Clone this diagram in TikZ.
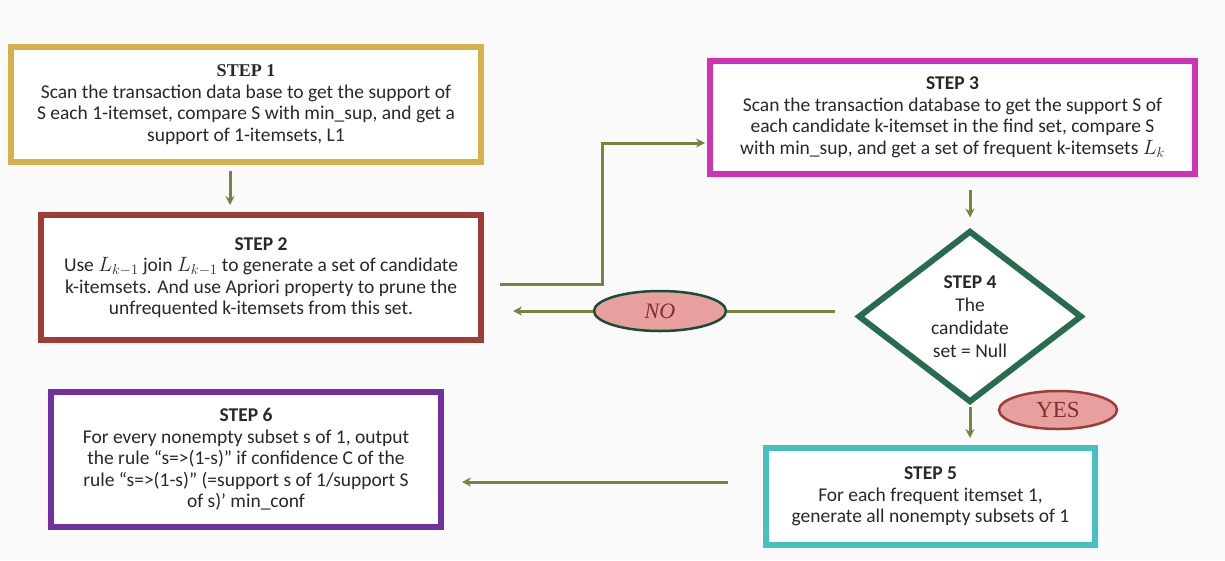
\documentclass[tikz,border=0pt]{standalone}
\usepackage{fontspec}
\setmainfont{Carlito}
\newfontfamily\serifrm{Liberation Serif}
\usetikzlibrary{shapes.geometric,arrows.meta}
\definecolor{bg}{RGB}{250,250,250}
\definecolor{cgold}{RGB}{214,176,72}
\definecolor{cred}{RGB}{160,60,55}
\definecolor{cmag}{RGB}{208,50,180}
\definecolor{cgreen}{RGB}{40,108,80}
\definecolor{cteal}{RGB}{70,192,192}
\definecolor{cpurp}{RGB}{112,48,160}
\definecolor{colive}{RGB}{122,130,62}
\definecolor{cpink}{RGB}{232,160,158}
\definecolor{ctext}{RGB}{40,40,40}
\begin{document}
\begin{tikzpicture}[x=1pt,y=-1pt,
  box/.style={draw, line width=6pt, fill=white, align=center, inner sep=2pt,
    text=ctext, font=\fontsize{19.5}{21.5}\selectfont},
  arr/.style={draw=colive, line width=3pt, -{Stealth[length=9pt,width=9pt]}},
  plain/.style={draw=colive, line width=3pt},
  lbl/.style={ellipse, fill=cpink, line width=2.5pt, inner sep=0pt}]
\fill[bg] (0,0) rectangle (1225,560);
\useasboundingbox (0,0) rectangle (1225,560);

\node[box, draw=cgold, minimum width=470pt, minimum height=115pt] (s1) at (246,104.5)
  {{\serifrm\bfseries\fontsize{18}{21.5}\selectfont STEP 1}\\Scan the transaction data base to get the support of\\S each 1-itemset, compare S with min\_sup, and get a\\support of 1-itemsets, L1};

\node[box, draw=cred, minimum width=440pt, minimum height=125pt] (s2) at (261,277.5)
  {\textbf{STEP 2}\\Use $L_{k-1}$ join $L_{k-1}$ to generate a set of candidate\\k-itemsets. And use Apriori property to prune the\\unfrequented k-itemsets from this set.};

\node[box, draw=cmag, minimum width=485pt, minimum height=113pt] (s3) at (952.5,117.5)
  {\textbf{STEP 3}\\Scan the transaction database to get the support S of\\each candidate k-itemset in the find set, compare S\\with min\_sup, and get a set of frequent k-itemsets $L_k$};

\node[diamond, draw=cgreen, line width=6pt, fill=white, inner sep=0pt, align=center,
  minimum width=224pt, minimum height=172pt, text=ctext,
  font=\fontsize{19.5}{23}\selectfont] (d) at (970,316.5)
  {\textbf{STEP 4}\\The\\candidate\\set = Null};

\node[box, draw=cteal, minimum width=329pt, minimum height=97pt] (s5) at (930.5,496.5)
  {\textbf{STEP 5}\\For each frequent itemset 1,\\generate all nonempty subsets of 1};

\node[box, draw=cpurp, minimum width=390pt, minimum height=135pt] (s6) at (246,459.5)
  {\textbf{STEP 6}\\For every nonempty subset s of 1, output\\the rule ``s=>(1-s)'' if confidence C of the\\rule ``s=>(1-s)'' (=support s of 1/support S\\of s)' min\_conf};

\node[lbl, draw=cgreen!70!black, minimum width=132pt, minimum height=40pt,
  font=\serifrm\itshape\fontsize{22}{22}\selectfont, text=cred!80!black] (no) at (660,311) {NO};
\node[lbl, draw=cred, minimum width=118pt, minimum height=38pt,
  font=\serifrm\fontsize{23}{23}\selectfont, text=cred!80!black] (yes) at (1058,410) {YES};

% connectors
\draw[arr] ([yshift=-6pt]s1.south -| 230,0) -- ([yshift=7pt]s2.north -| 230,0);
\draw[arr] ([xshift=16pt,yshift=-6.5pt]s2.east) -| (602,143) -- ([xshift=-2pt,yshift=-25.5pt]s3.west);
\draw[arr] ([yshift=-13pt]s3.south -| d.north) -- ([yshift=10pt]d.north);
\draw[plain] ([xshift=-20pt]d.west |- no.east) -- (no.east);
\draw[arr] (no.west) -- ([xshift=29pt]s2.east |- no.west);
\draw[arr] ([yshift=-1pt]d.south) -- ([yshift=7pt]s5.north -| d.south);
\draw[arr] ([xshift=-35pt,yshift=14.5pt]s5.west) -- ([xshift=18pt,yshift=14.5pt]s5.west -| s6.east);
\end{tikzpicture}
\end{document}
